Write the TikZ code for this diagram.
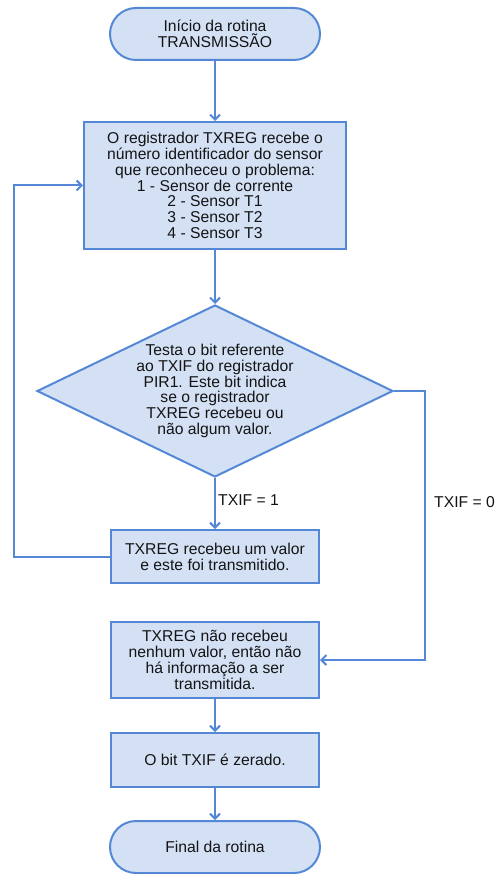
\documentclass[tikz,border=0pt]{standalone}
\usepackage{fontspec}
\setmainfont{Liberation Sans}
\usetikzlibrary{shapes.geometric,arrows.meta}
\definecolor{boxfill}{RGB}{212,225,245}
\definecolor{boxline}{RGB}{84,136,214}
\definecolor{txt}{RGB}{20,20,20}

\begin{document}
\begin{tikzpicture}[x=1pt,y=-1pt,
  every node/.style={font=\fontsize{15.7}{15.8}\selectfont, text=txt, align=center},
  term/.style={draw=boxline, fill=boxfill, line width=2pt, rounded corners=26pt, minimum width=210pt, minimum height=52pt, inner sep=0pt},
  proc/.style={draw=boxline, fill=boxfill, line width=2pt, inner sep=0pt},
  dec/.style={diamond, draw=boxline, fill=boxfill, line width=2pt, aspect=2.07, inner xsep=-30pt, inner ysep=0pt, minimum width=356pt, minimum height=172pt},
  flow/.style={draw=boxline, line width=2pt, -{Straight Barb[length=5pt,width=10pt]}},
  lbl/.style={anchor=west, inner sep=0pt}]
\useasboundingbox (0,0) rectangle (495,874);
\node[term] (start) at (215,34) {Início da rotina\\TRANSMISSÃO};
\node[proc, minimum width=262pt, minimum height=127pt] (reg) at (215,185.5) {O registrador TXREG recebe o\\número identificador do sensor\\que reconheceu o problema:\\1 - Sensor de corrente\\2 - Sensor T1\\3 - Sensor T2\\4 - Sensor T3};
\node[dec] (test) at (215,391) {Testa o bit referente\\ao TXIF do registrador\\PIR1. Este bit indica\\se o registrador\\TXREG recebeu ou\\não algum valor.};
\node[proc, minimum width=208pt, minimum height=53pt] (sent) at (215,556.5) {TXREG recebeu um valor\\e este foi transmitido.};
\node[proc, minimum width=208pt, minimum height=76pt] (nosent) at (215,660) {TXREG não recebeu\\nenhum valor, então não\\há informação a ser\\transmitida.};
\node[proc, minimum width=208pt, minimum height=54pt] (clr) at (215,760) {O bit TXIF é zerado.};
\node[term] (final) at (215,847) {Final da rotina};
\coordinate (back) at (14,0);
\coordinate (side) at (425,0);
\draw[flow] (start) -- (reg);
\draw[flow] (reg) -- (test);
\draw[flow] (test) -- (sent);
\draw[flow] (sent.west) -- (sent.west -| back) |- (reg.west);
\draw[flow] (test.east) -- (test.east -| side) |- (nosent.east);
\draw[flow] (nosent) -- (clr);
\draw[flow] (clr) -- (final);
\node[lbl] (one) at (218,500) {TXIF = 1};
\node[lbl] (zero) at (434,502) {TXIF = 0};
\end{tikzpicture}
\end{document}
